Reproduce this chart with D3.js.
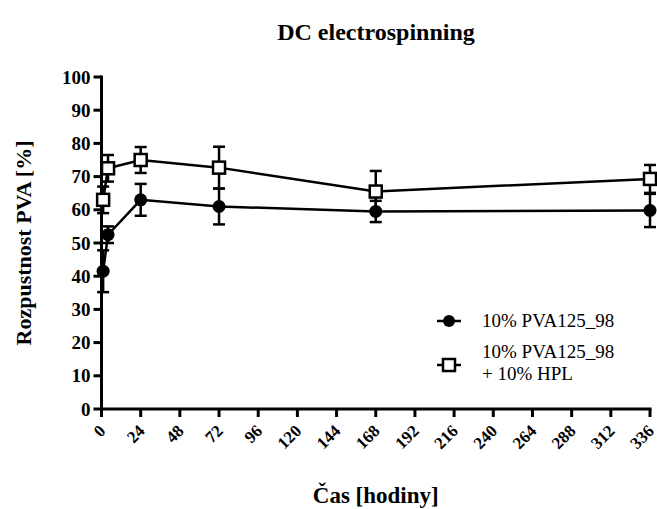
<!DOCTYPE html>
<html>
<head>
<meta charset="utf-8">
<script src="https://cdn.jsdelivr.net/npm/d3@7"></script>
<style>
  body { margin: 0; background: #fff; }
</style>
</head>
<body>
<div id="content"></div>
<script>
var width = 657, height = 509

// data
var hours = [1, 4, 24, 72, 168, 336]
var pvaMean = [41.5, 52.5, 63, 61, 59.5, 59.8]
var pvaErr = [6.3, 2.5, 4.8, 5.4, 3.2, 5]
var hplMean = [63, 72.5, 75, 72.7, 65.5, 69.3]
var hplErr = [4, 4, 3.9, 6.3, 6.2, 4.2]
var xTicks = d3.range(0, 337, 24)
var yTicks = d3.range(0, 101, 10)
var seriesNames = ['10% PVA125_98', '10% PVA125_98', '+ 10% HPL']

var margin = {left: 101.5, right: 7, top: 77, bottom: 100}
var serif = 'Liberation Serif'

var svg = d3.select('#content')
    .append('svg')
    .attr('width', width)
    .attr('height', height)

var x = d3.scaleLinear().domain([0, 336]).range([margin.left, width - margin.right])
var y = d3.scaleLinear().domain([0, 100]).range([height - margin.bottom, margin.top])

// axes, drawn from the scales
var axes = svg.append('g').attr('stroke', '#000').attr('stroke-width', 3)
axes.append('line')
    .attr('x1', x(0) - 1.5).attr('x2', x(336) + 1.5)
    .attr('y1', y(0)).attr('y2', y(0))
axes.append('line')
    .attr('x1', x(0)).attr('x2', x(0))
    .attr('y1', y(100) - 1.5).attr('y2', y(0) + 8)
axes.selectAll('.xt').data(xTicks).join('line')
    .attr('x1', d => x(d)).attr('x2', d => x(d))
    .attr('y1', y(0)).attr('y2', y(0) + 8)
axes.selectAll('.yt').data(yTicks).join('line')
    .attr('x1', x(0) - 8).attr('x2', x(0))
    .attr('y1', d => y(d)).attr('y2', d => y(d))

svg.append('g').selectAll('g')
    .data(xTicks)
    .join('g')
    .attr('transform', d => `translate(${x(d) + 5},${y(0) + 23}) rotate(-45)`)
    .append('text')
    .attr('text-anchor', 'end')
    .attr('font-family', serif)
    .attr('font-size', 17)
    .attr('font-weight', 'bold')
    .text(d => d)

svg.append('g').selectAll('text')
    .data(yTicks)
    .join('text')
    .attr('x', x(0) - 11)
    .attr('y', d => y(d) + 6.5)
    .attr('text-anchor', 'end')
    .attr('font-family', serif)
    .attr('font-size', 19)
    .attr('font-weight', 'bold')
    .text(d => d)

// titles
svg.append('text')
    .attr('x', 376).attr('y', 40)
    .attr('text-anchor', 'middle')
    .attr('font-family', serif)
    .attr('font-size', 24).attr('font-weight', 'bold')
    .text('DC electrospinning')

svg.append('g')
    .attr('transform', `translate(31,${(y(0) + y(100)) / 2}) rotate(-90)`)
    .append('text')
    .attr('text-anchor', 'middle')
    .attr('font-family', serif)
    .attr('font-size', 22).attr('font-weight', 'bold')
    .text('Rozpustnost PVA [%]')

svg.append('text')
    .attr('x', (x(0) + x(336)) / 2).attr('y', 503)
    .attr('text-anchor', 'middle')
    .attr('font-family', serif)
    .attr('font-size', 23).attr('font-weight', 'bold')
    .text('Čas [hodiny]')

// series
function drawSeries(mean, err, shape) {
    var pts = hours.map((h, i) => ({h: h, m: mean[i], e: err[i]}))
    var g = svg.append('g')
    g.append('path')
        .datum(pts)
        .attr('fill', 'none')
        .attr('stroke', '#000')
        .attr('stroke-width', 2.5)
        .attr('d', d3.line().x(d => x(d.h)).y(d => y(d.m)))
    var eb = g.selectAll('.err').data(pts).join('g')
    eb.append('line')
        .attr('x1', d => x(d.h)).attr('x2', d => x(d.h))
        .attr('y1', d => y(d.m - d.e)).attr('y2', d => y(d.m + d.e))
        .attr('stroke', '#000').attr('stroke-width', 2.5)
    eb.selectAll('.cap').data(d => [[d.h, d.m - d.e], [d.h, d.m + d.e]]).join('line')
        .attr('x1', d => x(d[0]) - 6).attr('x2', d => x(d[0]) + 6)
        .attr('y1', d => y(d[1])).attr('y2', d => y(d[1]))
        .attr('stroke', '#000').attr('stroke-width', 2.5)
    if (shape === 'circle') {
        g.selectAll('.pt').data(pts).join('circle')
            .attr('cx', d => x(d.h)).attr('cy', d => y(d.m))
            .attr('r', 6.5).attr('fill', '#000')
    } else {
        g.selectAll('.pt').data(pts).join('rect')
            .attr('x', d => x(d.h) - 6).attr('y', d => y(d.m) - 6)
            .attr('width', 12).attr('height', 12)
            .attr('fill', '#fff').attr('stroke', '#000').attr('stroke-width', 2.5)
    }
}
drawSeries(hplMean, hplErr, 'square')
drawSeries(pvaMean, pvaErr, 'circle')

// legend
var lg = svg.append('g')
lg.append('line').attr('x1', 437).attr('x2', 461).attr('y1', 321).attr('y2', 321)
    .attr('stroke', '#000').attr('stroke-width', 2.5)
lg.append('circle').attr('cx', 449).attr('cy', 321).attr('r', 6).attr('fill', '#000')
lg.append('line').attr('x1', 437).attr('x2', 461).attr('y1', 365).attr('y2', 365)
    .attr('stroke', '#000').attr('stroke-width', 2.5)
lg.append('rect').attr('x', 443).attr('y', 359).attr('width', 12).attr('height', 12)
    .attr('fill', '#fff').attr('stroke', '#000').attr('stroke-width', 2.5)
var legendY = [327, 358, 380]
lg.selectAll('text').data(seriesNames).join('text')
    .attr('x', 482).attr('y', (d, i) => legendY[i])
    .attr('font-family', serif).attr('font-size', 19)
    .text(d => d)
</script>
</body>
</html>
